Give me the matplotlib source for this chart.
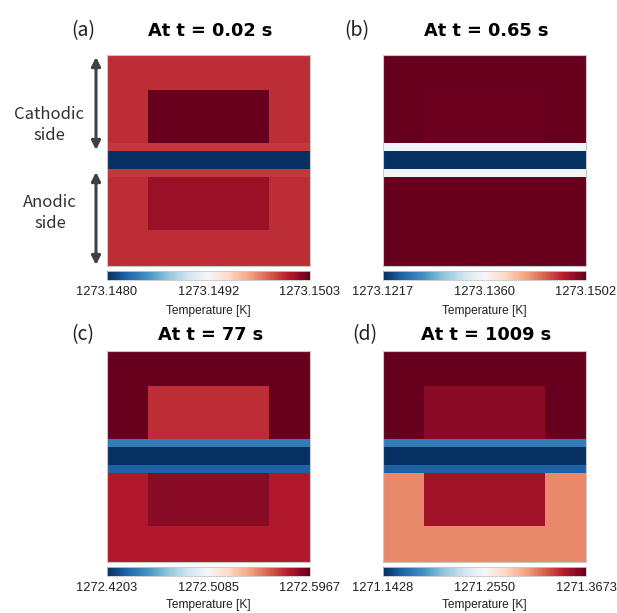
import numpy as np
import matplotlib
matplotlib.use("Agg")
import matplotlib.pyplot as plt
from matplotlib.patches import FancyArrowPatch

# ---- data ----
panel_tags = ["(a)", "(b)", "(c)", "(d)"]
panel_titles = ["At t = 0.02 s", "At t = 0.65 s", "At t = 77 s", "At t = 1009 s"]

# cell edges (normalised geometry: x across, y from top to bottom)
x_edges = [0.0, 0.2, 0.8, 1.0]
y_edges = [0.0, 0.166, 0.417, 0.457, 0.540, 0.580, 0.829, 1.0]

# temperatures [K] per layer row (top -> bottom), columns: left, centre, right
temps_a = [
    [1273.15000, 1273.15000, 1273.15000],
    [1273.15000, 1273.15030, 1273.15000],
    [1273.14996, 1273.14996, 1273.14996],
    [1273.14800, 1273.14800, 1273.14800],
    [1273.14996, 1273.14996, 1273.14996],
    [1273.15000, 1273.15014, 1273.15000],
    [1273.15000, 1273.15000, 1273.15000],
]
temps_b = [
    [1273.1502, 1273.1502, 1273.1502],
    [1273.1502, 1273.1499, 1273.1502],
    [1273.1354, 1273.1354, 1273.1354],
    [1273.1217, 1273.1217, 1273.1217],
    [1273.1354, 1273.1354, 1273.1354],
    [1273.1502, 1273.1502, 1273.1502],
    [1273.1502, 1273.1502, 1273.1502],
]
temps_c = [
    [1272.5967, 1272.5967, 1272.5967],
    [1272.5967, 1272.5738, 1272.5967],
    [1272.4468, 1272.4468, 1272.4468],
    [1272.4203, 1272.4203, 1272.4203],
    [1272.4362, 1272.4362, 1272.4362],
    [1272.5791, 1272.5879, 1272.5791],
    [1272.5791, 1272.5791, 1272.5791],
]
temps_d = [
    [1271.3673, 1271.3673, 1271.3673],
    [1271.3673, 1271.3561, 1271.3673],
    [1271.1765, 1271.1765, 1271.1765],
    [1271.1428, 1271.1428, 1271.1428],
    [1271.1630, 1271.1630, 1271.1630],
    [1271.3089, 1271.3493, 1271.3089],
    [1271.3089, 1271.3089, 1271.3089],
]
cbar_min = [1273.1480, 1273.1217, 1272.4203, 1271.1428]
cbar_max = [1273.1503, 1273.1502, 1272.5967, 1271.3673]
cbar_ticklabels = [
    ["1273.1480", "1273.1492", "1273.1503"],
    ["1273.1217", "1273.1360", "1273.1502"],
    ["1272.4203", "1272.5085", "1272.5967"],
    ["1271.1428", "1271.2550", "1271.3673"],
]
side_labels = ["Cathodic\nside", "Anodic\nside"]
cbar_label = "Temperature [K]"

all_temps = [temps_a, temps_b, temps_c, temps_d]

# ---- figure ----
W, H = 617, 613
fig = plt.figure(figsize=(W / 100, H / 100), dpi=100)

def fx(px):
    return px / W

def fy(py):
    return 1 - py / H

# pixel layout: (left, top) of image panels
img_w, img_h = 203, 211
panel_pos = [(107, 55), (383, 55), (107, 351), (383, 351)]
title_base = [36, 36, 340.5, 340.5]
tag_x = [83, 357, 83, 365]
label_pad = [5, 5, 3, 3]

tick_font = ["Liberation Sans", "DejaVu Sans"]
title_font = ["DejaVu Sans"]
tag_font = ["Noto Sans CJK KR", "DejaVu Sans"]

for i in range(4):
    left, top = panel_pos[i]
    ax = fig.add_axes([fx(left), fy(top + img_h), img_w / W, img_h / H])
    mesh = ax.pcolormesh(x_edges, y_edges, np.array(all_temps[i]), cmap="RdBu_r",
                         vmin=cbar_min[i], vmax=cbar_max[i], shading="flat")
    ax.set_xlim(0, 1)
    ax.set_ylim(1, 0)
    ax.set_xticks([])
    ax.set_yticks([])
    for s in ax.spines.values():
        s.set_color("#c8c8c8")
        s.set_linewidth(0.8)

    # colorbar
    cb_top = top + img_h + 5
    cax = fig.add_axes([fx(left), fy(cb_top + 8.5), img_w / W, 8.5 / H])
    mid = (cbar_min[i] + cbar_max[i]) / 2
    cb = fig.colorbar(mesh, cax=cax, orientation="horizontal",
                      ticks=[cbar_min[i], mid, cbar_max[i]])
    cb.set_ticklabels(cbar_ticklabels[i])
    cb.outline.set_edgecolor("#c8c8c8")
    cb.outline.set_linewidth(0.6)
    cax.tick_params(length=0, pad=5, labelsize=9.3, labelcolor="#202020")
    for lab in cax.get_xticklabels():
        lab.set_family(tick_font)
    cb.set_label(cbar_label, fontsize=8.6, family=tick_font, color="#202020",
                 labelpad=label_pad[i])

    # titles
    cx = left + img_w / 2 + 2
    fig.text(fx(cx), fy(title_base[i]), panel_titles[i], ha="center",
             va="baseline", fontsize=12.8, fontweight="bold", family=title_font,
             color="black")
    fig.text(fx(tag_x[i]), fy(title_base[i]), panel_tags[i], ha="center",
             va="baseline", fontsize=14, family=tag_font, color="#202020")

# side labels and arrows for panel (a)
fig.text(fx(49), fy(125), side_labels[0], ha="center", va="center",
         fontsize=12, family=tag_font, color="#303030", linespacing=1.25)
fig.text(fx(50), fy(213), side_labels[1], ha="center", va="center",
         fontsize=12, family=tag_font, color="#303030", linespacing=1.25)

for (y0, y1) in [(57, 150), (172, 265)]:
    arr = FancyArrowPatch((fx(96), fy(y0)), (fx(96), fy(y1)),
                          transform=fig.transFigure, arrowstyle="<|-|>",
                          mutation_scale=13, color="#404040", linewidth=2.2,
                          shrinkA=0, shrinkB=0)
    fig.add_artist(arr)

fig.savefig("out.png", dpi=100, facecolor="white")
